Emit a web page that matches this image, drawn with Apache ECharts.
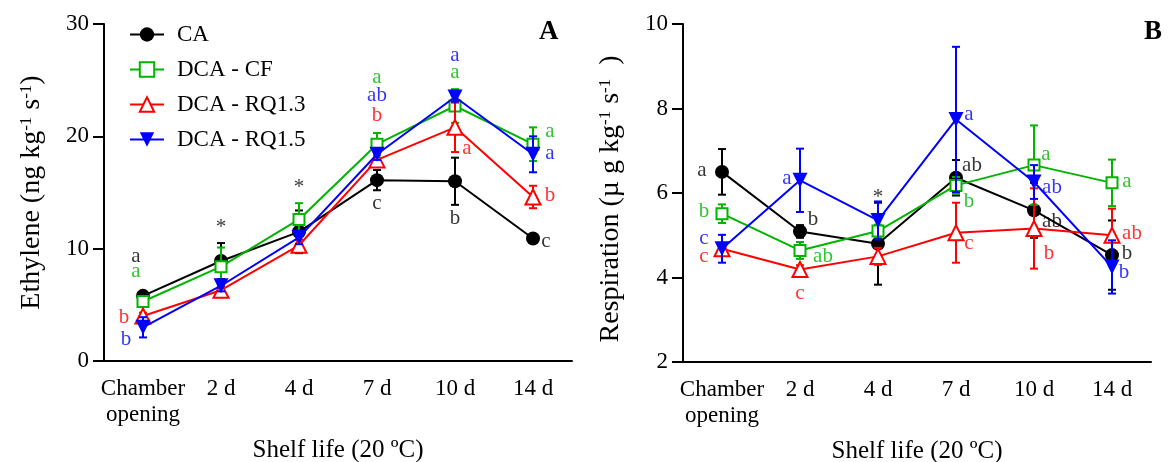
<!DOCTYPE html>
<html><head><meta charset="utf-8">
<script src="https://cdn.jsdelivr.net/npm/echarts@6/dist/echarts.min.js"></script>
<style>html,body{margin:0;padding:0;background:#fff}#c{width:1170px;height:462px}</style>
</head><body><div id="c"></div>
<script>
// ---------- data ----------
const categories = ['Chamber\nopening', '2 d', '4 d', '7 d', '10 d', '14 d'];
const seriesNames = ['CA', 'DCA - CF', 'DCA - RQ1.3', 'DCA - RQ1.5'];
const yTicksA = [0, 10, 20, 30];
const yTicksB = [2, 4, 6, 8, 10];

// Panel A: Ethylene (mean, error)
const ethCA     = [5.8, 8.9, 11.5, 16.1, 16.0, 10.9];
const ethCAerr  = [0.3, 1.6, 1.9, 0.9, 2.1, 0.2];
const ethCF     = [5.3, 8.4, 12.6, 19.3, 22.7, 19.3];
const ethCFerr  = [0.3, 1.7, 1.45, 1.0, 1.5, 1.5];
const ethR13    = [4.0, 6.3, 10.3, 17.9, 20.8, 14.6];
const ethR13err = [0.3, 0.4, 0.5, 0.6, 2.2, 1.0];
const ethR15    = [3.0, 6.7, 11.0, 18.4, 23.5, 18.4];
const ethR15err = [0.9, 0.5, 0.6, 0.5, 0.4, 1.6];

// Panel B: Respiration (mean, error)
const resCA     = [6.50, 5.09, 4.80, 6.36, 5.59, 4.53];
const resCAerr  = [0.54, 0.15, 0.97, 0.42, 0.65, 0.82];
const resCF     = [5.51, 4.64, 5.10, 6.18, 6.66, 6.24];
const resCFerr  = [0.22, 0.20, 0.15, 0.20, 0.94, 0.55];
const resR13    = [4.68, 4.19, 4.50, 5.06, 5.16, 5.00];
const resR13err = [0.10, 0.10, 0.20, 0.71, 0.95, 0.63];
const resR15    = [4.68, 6.30, 5.35, 7.74, 6.26, 4.25];
const resR15err = [0.33, 0.75, 0.45, 1.72, 0.40, 0.63];

// Significance letters: [category index, y value, text, series index, x offset px]
const lettersA = [
  [0, 9.3, 'a', 0, -7], [0, 8.0, 'a', 1, -7], [0, 3.85, 'b', 2, -19], [0, 1.95, 'b', 3, -17],
  [1, 11.9, '*', 0, 0], [2, 15.45, '*', 0, 0],
  [3, 25.2, 'a', 1, 0], [3, 23.6, 'ab', 3, 0], [3, 21.9, 'b', 2, 0], [3, 14.0, 'c', 0, 0],
  [4, 27.2, 'a', 3, 0], [4, 25.7, 'a', 1, 0], [4, 18.9, 'a', 2, 12], [4, 12.7, 'b', 0, 0],
  [5, 20.4, 'a', 1, 17], [5, 18.5, 'a', 3, 17], [5, 14.7, 'b', 2, 17], [5, 10.6, 'c', 0, 13]
];
const lettersB = [
  [0, 6.54, 'a', 0, -20], [0, 5.57, 'b', 1, -18], [0, 4.93, 'c', 3, -18], [0, 4.50, 'c', 2, -18],
  [1, 6.35, 'a', 3, -13], [1, 5.38, 'b', 0, 13], [1, 4.50, 'ab', 1, 23], [1, 3.63, 'c', 2, 0],
  [2, 5.90, '*', 0, 0],
  [3, 7.87, 'a', 3, 13], [3, 6.64, 'ab', 0, 16], [3, 5.81, 'b', 1, 13], [3, 4.81, 'c', 2, 13],
  [4, 6.90, 'a', 1, 12], [4, 6.14, 'ab', 3, 18], [4, 5.33, 'ab', 0, 18], [4, 4.58, 'b', 2, 15],
  [5, 6.28, 'a', 1, 15], [5, 5.05, 'ab', 2, 20], [5, 4.58, 'b', 0, 15], [5, 4.13, 'b', 3, 12]
];

// ---------- styling ----------
const FONT = 'Liberation Serif';
const colors = ['#000000', '#00b400', '#ff0000', '#0000ff'];
const invTri = 'path://M0,0 L20,0 L10,18 Z';
const symbols = ['circle', 'emptyRect', 'emptyTriangle', invTri];
const symbolSizes = [14, 11, 15, 15];

const panelA = { means: [ethCA, ethCF, ethR13, ethR15], errs: [ethCAerr, ethCFerr, ethR13err, ethR15err], letters: lettersA };
const panelB = { means: [resCA, resCF, resR13, resR15], errs: [resCAerr, resCFerr, resR13err, resR15err], letters: lettersB };

function errRender(color) {
  return function (params, api) {
    const i = api.value(0), v = api.value(1), e = api.value(2);
    const t = api.coord([i, v + e]), b = api.coord([i, v - e]);
    const cw = 4;
    const st = { stroke: color, lineWidth: 2 };
    return { type: 'group', children: [
      { type: 'line', shape: { x1: t[0], y1: t[1], x2: b[0], y2: b[1] }, style: st },
      { type: 'line', shape: { x1: t[0] - cw, y1: t[1], x2: t[0] + cw, y2: t[1] }, style: st },
      { type: 'line', shape: { x1: b[0] - cw, y1: b[1], x2: b[0] + cw, y2: b[1] }, style: st }
    ]};
  };
}

function buildSeries(panel, gi) {
  const out = [];
  for (let s = 0; s < 4; s++) {
    out.push({
      type: 'custom', xAxisIndex: gi, yAxisIndex: gi, silent: true, z: 2 + s,
      renderItem: errRender(colors[s]),
      data: panel.means[s].map((v, i) => [i, v, panel.errs[s][i]])
    });
    out.push({
      type: 'line', name: seriesNames[s], xAxisIndex: gi, yAxisIndex: gi, z: 2 + s,
      data: panel.means[s], symbol: symbols[s], symbolSize: symbolSizes[s],
      showAllSymbol: true,
      lineStyle: { color: colors[s], width: 2 },
      itemStyle: { color: colors[s], borderColor: colors[s], borderWidth: s === 1 || s === 2 ? 1.6 : 0 },
      animation: false
    });
  }
  out.push({
    type: 'scatter', xAxisIndex: gi, yAxisIndex: gi, silent: true, z: 20,
    symbolSize: 0,
    data: panel.letters.map(l => ({
      value: [l[0], l[1]],
      label: { show: true, position: 'inside', formatter: l[2], color: colors[l[3]], offset: [l[4], 0],
               fontFamily: FONT, fontSize: 21 }
    })),
    animation: false
  });
  return out;
}

function xAxis(gi) {
  return {
    type: 'category', gridIndex: gi, data: categories, boundaryGap: true,
    axisLine: { lineStyle: { color: '#000', width: 2 } },
    axisTick: { alignWithLabel: true, length: 10, lineStyle: { width: 2, color: '#000' } },
    axisLabel: { color: '#000', fontFamily: FONT, fontSize: 23, lineHeight: 26, margin: 15, interval: 0 },
    name: 'Shelf life (20 ºC)', nameLocation: 'middle', nameGap: 77,
    nameTextStyle: { color: '#000', fontFamily: FONT, fontSize: 25 },
    splitLine: { show: false }
  };
}
function yAxis(gi, ticks, nameRich, gap, pad) {
  const step = ticks[1] - ticks[0];
  return {
    type: 'value', gridIndex: gi, min: ticks[0], max: ticks[ticks.length - 1], interval: step,
    axisLine: { show: true, lineStyle: { color: '#000', width: 2 } },
    axisTick: { show: true, length: 11, lineStyle: { width: 2, color: '#000' } },
    axisLabel: { color: '#000', fontFamily: FONT, fontSize: 23, margin: 15 },
    splitLine: { show: false },
    name: nameRich, nameLocation: 'middle', nameRotate: 90, nameGap: gap,
    nameTextStyle: { color: '#000', fontFamily: FONT, fontSize: 28, padding: pad,
      rich: { s: { fontFamily: FONT, fontSize: 17, verticalAlign: 'top', color: '#000' } } }
  };
}

const chart = echarts.init(document.getElementById('c'), null, { renderer: 'canvas' });
chart.setOption({
  backgroundColor: '#fff',
  animation: false,
  title: [
    { text: 'A', left: 534, top: 14, textStyle: { fontFamily: FONT, fontSize: 27, fontWeight: 'bold', color: '#000' } },
    { text: 'B', left: 1139, top: 14, textStyle: { fontFamily: FONT, fontSize: 27, fontWeight: 'bold', color: '#000' } }
  ],
  legend: {
    data: seriesNames, orient: 'vertical', left: 124, top: 18,
    itemWidth: 34, itemHeight: 18, itemGap: 12,
    textStyle: { fontFamily: FONT, fontSize: 23, color: '#000', padding: [0, 0, 0, 8] },
    selectedMode: false
  },
  grid: [
    { left: 104, top: 24, width: 468, height: 337, outerBoundsMode: 'none', containLabel: false },
    { left: 683, top: 24, width: 468, height: 338, outerBoundsMode: 'none', containLabel: false }
  ],
  xAxis: [xAxis(0), xAxis(1)],
  yAxis: [
    yAxis(0, yTicksA, 'Ethylene (ng kg{s|-1} s{s|-1})', 58, [0, 0, 0, 0]),
    yAxis(1, yTicksB, 'Respiration (µ g kg{s|-1} s{s|-1}  )', 58, [0, 12, 0, 0])
  ],
  series: buildSeries(panelA, 0).concat(buildSeries(panelB, 1))
});
</script></body></html>
